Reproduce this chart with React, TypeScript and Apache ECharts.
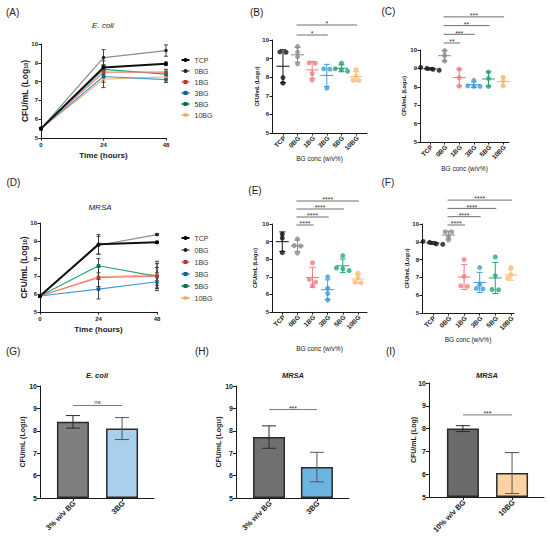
import React, { useEffect, useRef } from 'react';
import * as echarts from 'echarts';

const FONT = "'Liberation Sans', Arial, Helvetica, sans-serif";
const INK = '#1a1a1a';

// ---------- data ----------
const groupNames = ['TCP', '0BG', '1BG', '3BG', '5BG', '10BG'];
const hours = [0, 24, 48];

// (A) E. coli growth, mean log10 CFU/mL per group at 0/24/48 h
const ecoliCurveMeans = [
  [5.5, 8.75, 8.95],
  [5.5, 9.28, 9.65],
  [5.5, 8.5, 8.5],
  [5.5, 8.27, 8.1],
  [5.5, 8.65, 8.4],
  [5.5, 8.13, 8.25],
];
const ecoliCurveSd = [
  [0.05, 0.35, 0.1],
  [0.05, 0.42, 0.3],
  [0.05, 0.3, 0.15],
  [0.05, 0.3, 0.15],
  [0.05, 0.25, 0.12],
  [0.05, 0.45, 0.12],
];
// (D) MRSA growth
const mrsaCurveMeans = [
  [5.9, 8.8, 8.92],
  [5.9, 8.75, 9.35],
  [5.9, 6.93, 7.02],
  [5.9, 6.28, 6.7],
  [5.9, 7.6, 7.0],
  [5.9, 6.98, 7.1],
];
const mrsaCurveSd = [
  [0.05, 0.55, 0.05],
  [0.05, 0.5, 0.05],
  [0.05, 0.6, 0.7],
  [0.05, 0.55, 0.5],
  [0.05, 0.4, 0.5],
  [0.05, 0.55, 0.75],
];

// (B) replicates per group
const repsB = [
  [9.34, 9.36, 7.98, 7.68],
  [9.65, 9.35, 9.1, 8.72],
  [8.75, 8.77, 8.2, 7.85],
  [8.45, 8.43, 7.41],
  [8.75, 8.45, 8.4, 8.32],
  [8.4, 8.05, 7.85, 7.83],
];
// (C)
const repsC = [
  [9.05, 8.95, 8.9, 9.0],
  [9.97, 9.7, 9.4],
  [8.96, 8.5, 8.04],
  [8.35, 8.05, 8.03, 8.02],
  [8.8, 8.45, 8.02],
  [8.52, 8.3, 8.05],
];
// (E)
const repsE = [
  [9.42, 9.2, 8.37],
  [9.15, 8.78, 8.75, 8.35],
  [7.8, 6.85, 6.7, 6.5],
  [7.0, 6.35, 6.05, 5.68],
  [8.2, 7.5, 7.45, 7.35],
  [7.2, 6.95, 6.7, 6.65],
];
// (F)
const repsF = [
  [8.88, 8.97, 8.86, 9.02],
  [9.55, 9.56, 9.3, 9.1],
  [8.0, 7.05, 6.5, 6.52],
  [7.55, 6.6, 6.38, 6.35],
  [8.15, 7.1, 6.32, 6.3],
  [7.55, 7.15, 6.95, 6.9],
];

// significance comparisons [fromGroup, toGroup, label], bottom row first
const sigB: [number, number, string][] = [[1, 3, '*'], [1, 5, '*']];
const sigC: [number, number, string][] = [[1, 2, '**'], [1, 3, '***'], [1, 4, '**'], [1, 5, '***']];
const sigE: [number, number, string][] = [[1, 2, '****'], [1, 3, '****'], [1, 4, '****'], [1, 5, '****']];
const sigF: [number, number, string][] = [[1, 2, '****'], [1, 3, '****'], [1, 4, '****'], [1, 5, '****']];

// (G)(H)(I) bar comparisons
const catsG = ['3% w/v BG', '3BG'];
const meansG = [8.4, 8.1];
const sdG = [0.28, 0.49];
const sigG = { level: 9.13, label: 'ns' };

const catsH = ['3% w/v BG', '3BG'];
const meansH = [7.72, 6.38];
const sdH = [0.5, 0.66];
const sigH = { level: 8.95, label: '***' };

const catsI = ['10% w/v BG', '10BG'];
const meansI = [8.0, 6.05];
const sdI = [0.13, 0.9];
const sigI = { level: 8.6, label: '***' };

// ---------- styles ----------
const lineColors = ['#111111', '#8c8c8c', '#f47a80', '#3f9ad6', '#23a676', '#f8bd74'];
const markerColors = ['#000000', '#222222', '#b33a3a', '#1f5e8c', '#15704d', '#eaa04a'];
const lineWidths = [2, 1.2, 1.2, 1.2, 1.2, 1.2];
const X_SYMBOL = 'path://M2,0L5,3L8,0L10,2L7,5L10,8L8,10L5,7L2,10L0,8L3,5L0,2Z';
const markerShapes = ['circle', 'circle', 'rect', 'rect', 'rect', X_SYMBOL];
const barColorsG = ['#7f7f7f', '#a8d0ec'];
const barColorsH = ['#707070', '#6cb4e2'];
const barColorsI = ['#6b6b6b', '#fdd3a3'];
const LABEL_ROT = Math.PI / 4;

const gridBoxes = [
  { left: 41, top: 44, width: 125, height: 94 }, // A
  { left: 272, top: 40, width: 95, height: 93 }, // B
  { left: 420, top: 50, width: 89, height: 92 }, // C
  { left: 40, top: 223, width: 117, height: 89 }, // D
  { left: 272, top: 224, width: 95, height: 88 }, // E
  { left: 422, top: 224, width: 92, height: 89 }, // F
  { left: 40, top: 386, width: 114, height: 112 }, // G
  { left: 236, top: 386, width: 113, height: 112 }, // H
  { left: 429, top: 383, width: 115, height: 114 }, // I
];

// ---------- helpers ----------
const mean = (v: number[]) => v.reduce((s, x) => s + x, 0) / v.length;
const sampleSd = (v: number[]) => {
  const m = mean(v);
  return Math.sqrt(v.reduce((s, x) => s + (x - m) * (x - m), 0) / (v.length - 1));
};
function jitterOffsets(values: number[], thr = 0.2, step = 0.42): number[] {
  const order = values.map((_, i) => i).sort((a, b) => values[b] - values[a]);
  const offs = new Array(values.length).fill(0);
  let cluster: number[] = [];
  const flush = () => {
    const n = cluster.length;
    cluster.forEach((idx, k) => {
      offs[idx] = (k - (n - 1) / 2) * step;
    });
    cluster = [];
  };
  for (const idx of order) {
    if (cluster.length && values[cluster[0]] - values[idx] > thr) flush();
    cluster.push(idx);
  }
  flush();
  return offs;
}

function yAxisOf(gridIndex: number, cfg: { labelSize: number; nameSize: number; nameGap: number; name: string; tick: number; startValue?: number }) {
  const ax: any = {
    type: 'value',
    gridIndex,
    min: 5,
    max: 10,
    interval: 1,
    axisLine: { show: true, onZero: false, lineStyle: { color: INK, width: 1 } },
    axisTick: { show: true, length: cfg.tick, lineStyle: { color: INK, width: 1 } },
    splitLine: { show: false },
    axisLabel: { fontSize: cfg.labelSize, fontWeight: 'bold', color: INK, margin: 3, fontFamily: FONT },
    name: cfg.name,
    nameLocation: 'middle',
    nameGap: cfg.nameGap,
    nameMoveOverlap: false,
    nameTextStyle: {
      fontSize: cfg.nameSize,
      fontWeight: 'bold',
      color: INK,
      fontFamily: FONT,
      rich: {
        s: { fontSize: cfg.nameSize * 0.65, fontWeight: 'bold', color: INK, fontFamily: FONT, verticalAlign: 'bottom' },
      },
    },
  };
  if (cfg.startValue != null) ax.startValue = cfg.startValue;
  return ax;
}

// value x-axis whose ticks sit on the group indices; labels drawn by a custom series
function catXAxis(gridIndex: number, cats: string[], min: number, max: number, tick: number, name?: string, nameGap?: number) {
  const idx = cats.map((_, i) => i);
  const ax: any = {
    type: 'value',
    gridIndex,
    min,
    max,
    axisLine: { show: true, onZero: false, lineStyle: { color: INK, width: 1 } },
    axisTick: { show: true, length: tick, customValues: idx, lineStyle: { color: INK, width: 1 } },
    axisLabel: { show: false },
    splitLine: { show: false },
  };
  if (name) {
    ax.name = name;
    ax.nameLocation = 'middle';
    ax.nameGap = nameGap;
    ax.nameMoveOverlap = false;
    ax.nameTextStyle = { fontSize: 6.5, color: INK, fontFamily: FONT };
  }
  return ax;
}

function catLabelSeries(gridIndex: number, cats: string[], fontSize: number) {
  return {
    type: 'custom',
    xAxisIndex: gridIndex,
    yAxisIndex: gridIndex,
    clip: false,
    silent: true,
    z: 5,
    renderItem: (params: any, api: any) => {
      const p = api.coord([api.value(0), 5]);
      return {
        type: 'text',
        x: p[0] + 1.5,
        y: p[1] + 4,
        rotation: LABEL_ROT,
        style: {
          text: cats[params.dataIndex],
          align: 'right',
          verticalAlign: 'middle',
          fontSize,
          fontWeight: 'bold',
          fontFamily: FONT,
          fill: INK,
        },
      };
    },
    data: cats.map((_, i) => [i, 5]),
  };
}

function errorBarRender(capHalf: number, colorOf?: (i: number) => string, lw = 0.9) {
  return (params: any, api: any) => {
    const x = api.value(0);
    const m = api.value(1);
    const sd = api.value(2);
    const t = api.coord([x, m + sd]);
    const b = api.coord([x, m - sd]);
    const stroke = colorOf ? colorOf(params.dataIndex) : '#333333';
    const st = { stroke, lineWidth: lw };
    return {
      type: 'group',
      children: [
        { type: 'line', shape: { x1: t[0], y1: t[1], x2: b[0], y2: b[1] }, style: st },
        { type: 'line', shape: { x1: t[0] - capHalf, y1: t[1], x2: t[0] + capHalf, y2: t[1] }, style: st },
        { type: 'line', shape: { x1: b[0] - capHalf, y1: b[1], x2: b[0] + capHalf, y2: b[1] }, style: st },
      ],
    };
  };
}

function meanSdRender(colors: string[]) {
  return (params: any, api: any) => {
    const x = api.value(0);
    const m = api.value(1);
    const sd = api.value(2);
    const c = api.coord([x, m]);
    const t = api.coord([x, m + sd]);
    const b = api.coord([x, m - sd]);
    const st = { stroke: colors[params.dataIndex], lineWidth: 1 };
    return {
      type: 'group',
      children: [
        { type: 'line', shape: { x1: c[0] - 6.5, y1: c[1], x2: c[0] + 6.5, y2: c[1] }, style: st },
        { type: 'line', shape: { x1: c[0], y1: t[1], x2: c[0], y2: b[1] }, style: st },
        { type: 'line', shape: { x1: c[0] - 3, y1: t[1], x2: c[0] + 3, y2: t[1] }, style: st },
        { type: 'line', shape: { x1: c[0] - 3, y1: b[1], x2: c[0] + 3, y2: b[1] }, style: st },
      ],
    };
  };
}

function sigText(label: string, x: number, y: number) {
  const off = label === 'ns' ? -0.5 : 2.2;
  return {
    type: 'text',
    style: {
      text: label,
      x,
      y: y + off,
      align: 'center',
      verticalAlign: 'bottom',
      fontSize: label === 'ns' ? 6 : 7,
      fontFamily: FONT,
      fill: '#333333',
    },
  };
}

function sigRender(sigs: [number, number, string][], gap: number, step: number) {
  return (params: any, api: any) => {
    const s = sigs[params.dataIndex];
    const p1 = api.coord([s[0], 10]);
    const p2 = api.coord([s[1], 10]);
    const y = p1[1] - gap - params.dataIndex * step;
    return {
      type: 'group',
      children: [
        { type: 'line', shape: { x1: p1[0] - 1, y1: y, x2: p2[0] + 1, y2: y }, style: { stroke: '#6e6e6e', lineWidth: 1 } },
        sigText(s[2], (p1[0] + p2[0]) / 2, y),
      ],
    };
  };
}

function buildOption() {
  const xAxes: any[] = [];
  const yAxes: any[] = [];
  const series: any[] = [];

  // line panels (A, D)
  const linePanels = [
    { grid: 0, means: ecoliCurveMeans, sd: ecoliCurveSd },
    { grid: 3, means: mrsaCurveMeans, sd: mrsaCurveSd },
  ];
  linePanels.forEach((p) => {
    xAxes[p.grid] = {
      type: 'value',
      gridIndex: p.grid,
      min: 0,
      max: 48,
      interval: 24,
      axisLine: { show: true, onZero: false, lineStyle: { color: INK, width: 1 } },
      axisTick: { show: true, length: 2.5, lineStyle: { color: INK, width: 1 } },
      axisLabel: { fontSize: 6, fontWeight: 'bold', color: INK, margin: 4, fontFamily: FONT },
      splitLine: { show: false },
      name: 'Time (hours)',
      nameLocation: 'middle',
      nameGap: 13,
      nameMoveOverlap: false,
      nameTextStyle: { fontSize: 8, fontWeight: 'bold', color: INK, fontFamily: FONT },
    };
    yAxes[p.grid] = yAxisOf(p.grid, { labelSize: 6, nameSize: 8.5, nameGap: 12, name: 'CFU/mL (Log{s|10})', tick: 2.5 });
    const errData: number[][] = [];
    p.means.forEach((row, g) => row.forEach((m, k) => errData.push([hours[k], m, p.sd[g][k]])));
    series.push({
      type: 'custom',
      xAxisIndex: p.grid,
      yAxisIndex: p.grid,
      clip: false,
      z: 2,
      silent: true,
      renderItem: errorBarRender(2),
      data: errData,
    });
    [5, 4, 3, 2, 1, 0].forEach((g) => {
      series.push({
        type: 'line',
        name: groupNames[g],
        xAxisIndex: p.grid,
        yAxisIndex: p.grid,
        data: hours.map((h, k) => [h, p.means[g][k]]),
        symbol: markerShapes[g],
        symbolSize: g === 0 ? 4 : 3.5,
        showSymbol: true,
        lineStyle: { color: lineColors[g], width: lineWidths[g] },
        itemStyle: { color: markerColors[g] },
        z: 3,
      });
    });
  });

  // scatter panels (B, C, E, F)
  const scatterPanels = [
    { grid: 1, reps: repsB, sig: sigB, min: -0.75, max: 5.75, nameGap: 22, sigGap: 5, sigStep: 10, yGap: 12 },
    { grid: 2, reps: repsC, sig: sigC, min: -0.68, max: 5.4, nameGap: 23, sigGap: 7, sigStep: 8.7, yGap: 13 },
    { grid: 4, reps: repsE, sig: sigE, min: -0.68, max: 5.6, nameGap: 33, sigGap: -1, sigStep: 8, yGap: 14 },
    { grid: 5, reps: repsF, sig: sigF, min: -0.7, max: 5.2, nameGap: 23, sigGap: -1, sigStep: 8.3, yGap: 12 },
  ];
  scatterPanels.forEach((p) => {
    xAxes[p.grid] = catXAxis(p.grid, groupNames, p.min, p.max, 2.5, 'BG conc (w/v%)', p.nameGap);
    yAxes[p.grid] = yAxisOf(p.grid, { labelSize: 6, nameSize: 5.5, nameGap: p.yGap, name: 'CFU/mL (Log{s|10})', tick: 2.5 });
    const pts: any[] = [];
    p.reps.forEach((vals, g) => {
      const offs = jitterOffsets(vals);
      vals.forEach((v, k) => pts.push({ value: [g + offs[k], v], itemStyle: { color: lineColors[g] } }));
    });
    series.push({
      type: 'custom',
      xAxisIndex: p.grid,
      yAxisIndex: p.grid,
      clip: false,
      z: 2,
      silent: true,
      renderItem: meanSdRender(lineColors),
      data: p.reps.map((vals, g) => [g, mean(vals), sampleSd(vals)]),
    });
    series.push({
      type: 'scatter',
      name: 'pts' + p.grid,
      xAxisIndex: p.grid,
      yAxisIndex: p.grid,
      symbol: 'circle',
      symbolSize: 5,
      data: pts,
      z: 3,
      silent: true,
    });
    series.push({
      type: 'custom',
      xAxisIndex: p.grid,
      yAxisIndex: p.grid,
      clip: false,
      z: 4,
      silent: true,
      renderItem: sigRender(p.sig, p.sigGap, p.sigStep),
      data: p.sig.map((s) => [s[0], s[1]]),
    });
    series.push(catLabelSeries(p.grid, groupNames, 6.5));
  });

  // bar panels (G, H, I)
  const barPanels = [
    { grid: 6, cats: catsG, means: meansG, sd: sdG, colors: barColorsG, sig: sigG, min: -0.67, max: 1.65, yName: 'CFU/mL (Log{s|10})', yGap: 14 },
    { grid: 7, cats: catsH, means: meansH, sd: sdH, colors: barColorsH, sig: sigH, min: -0.69, max: 1.67, yName: 'CFU/mL (Log{s|10})', yGap: 14 },
    { grid: 8, cats: catsI, means: meansI, sd: sdI, colors: barColorsI, sig: sigI, min: -0.69, max: 1.65, yName: 'CFU/mL (Log)', yGap: 12 },
  ];
  barPanels.forEach((p) => {
    xAxes[p.grid] = catXAxis(p.grid, p.cats, p.min, p.max, 3);
    yAxes[p.grid] = yAxisOf(p.grid, { labelSize: 7, nameSize: 7, nameGap: p.yGap, name: p.yName, tick: 3, startValue: 5 });
    series.push({
      type: 'bar',
      name: 'bars' + p.grid,
      xAxisIndex: p.grid,
      yAxisIndex: p.grid,
      barWidth: 32,
      silent: true,
      itemStyle: { borderColor: '#2b2b2b', borderWidth: 1.5 },
      data: p.means.map((m, i) => ({ value: [i, m], itemStyle: { color: p.colors[i] } })),
      z: 2,
    });
    series.push({
      type: 'custom',
      xAxisIndex: p.grid,
      yAxisIndex: p.grid,
      clip: false,
      z: 4,
      silent: true,
      renderItem: errorBarRender(7, (i) => (i === 0 ? '#2b2b2b' : '#555555'), 1),
      data: p.means.map((m, i) => [i, m, p.sd[i]]),
    });
    const sig = p.sig;
    series.push({
      type: 'custom',
      xAxisIndex: p.grid,
      yAxisIndex: p.grid,
      clip: false,
      z: 4,
      silent: true,
      renderItem: (params: any, api: any) => {
        const a = api.coord([api.value(0), api.value(2)]);
        const b = api.coord([api.value(1), api.value(2)]);
        return {
          type: 'group',
          children: [
            { type: 'line', shape: { x1: a[0], y1: a[1], x2: b[0], y2: b[1] }, style: { stroke: '#7a7a7a', lineWidth: 1 } },
            sigText(sig.label, (a[0] + b[0]) / 2, a[1]),
          ],
        };
      },
      data: [[0, 1, sig.level]],
    });
    series.push(catLabelSeries(p.grid, p.cats, 7.5));
  });

  const panelLetters = [
    ['(A)', 6, 12], ['(B)', 250, 12.7], ['(C)', 381.5, 11.7],
    ['(D)', 6.5, 182.3], ['(E)', 248.3, 190], ['(F)', 381.5, 182.3],
    ['(G)', 6, 351.5], ['(H)', 195, 351], ['(I)', 386, 351],
  ] as [string, number, number][];
  const titles = [
    ['E. coli', 103, 25, 'normal', 8],
    ['MRSA', 100, 207, 'normal', 8],
    ['E. coli', 97, 375, 'bold', 7.5],
    ['MRSA', 293, 375, 'bold', 7.5],
    ['MRSA', 487, 375, 'bold', 7.5],
  ] as [string, number, number, string, number][];

  const graphic: any[] = [
    ...panelLetters.map(([t, x, y]) => ({
      type: 'text',
      x,
      y,
      silent: true,
      style: { text: t, fontSize: 10, fontFamily: FONT, fill: '#222', align: 'left', verticalAlign: 'middle' },
    })),
    ...titles.map(([t, x, y, w, fs]) => ({
      type: 'text',
      x,
      y,
      silent: true,
      style: { text: t, fontSize: fs, fontStyle: 'italic', fontWeight: w, fontFamily: FONT, fill: '#222', align: 'center', verticalAlign: 'middle' },
    })),
  ];

  const legendBase = {
    data: groupNames,
    orient: 'vertical',
    left: 180.5,
    itemWidth: 8,
    itemHeight: 5,
    padding: 0,
    selectedMode: false,
    textStyle: { fontSize: 7, color: '#333333', fontFamily: FONT, lineHeight: 8 },
  };

  return {
    animation: false,
    backgroundColor: '#ffffff',
    textStyle: { fontFamily: FONT },
    grid: gridBoxes.map((g) => ({ ...g, containLabel: false, outerBoundsMode: 'none' })),
    xAxis: xAxes,
    yAxis: yAxes,
    legend: [
      { ...legendBase, top: 56, itemGap: 3 },
      { ...legendBase, top: 234, itemGap: 4 },
    ],
    graphic,
    series,
  };
}

export default function App() {
  const ref = useRef<HTMLDivElement>(null);
  useEffect(() => {
    if (!ref.current) return;
    const chart = echarts.init(ref.current, null, { renderer: 'svg' });
    chart.setOption(buildOption() as any);
    return () => chart.dispose();
  }, []);
  return (
    <div
      ref={ref}
      style={{ position: 'fixed', left: 0, top: 0, width: 550, height: 544, background: '#ffffff' }}
    />
  );
}
